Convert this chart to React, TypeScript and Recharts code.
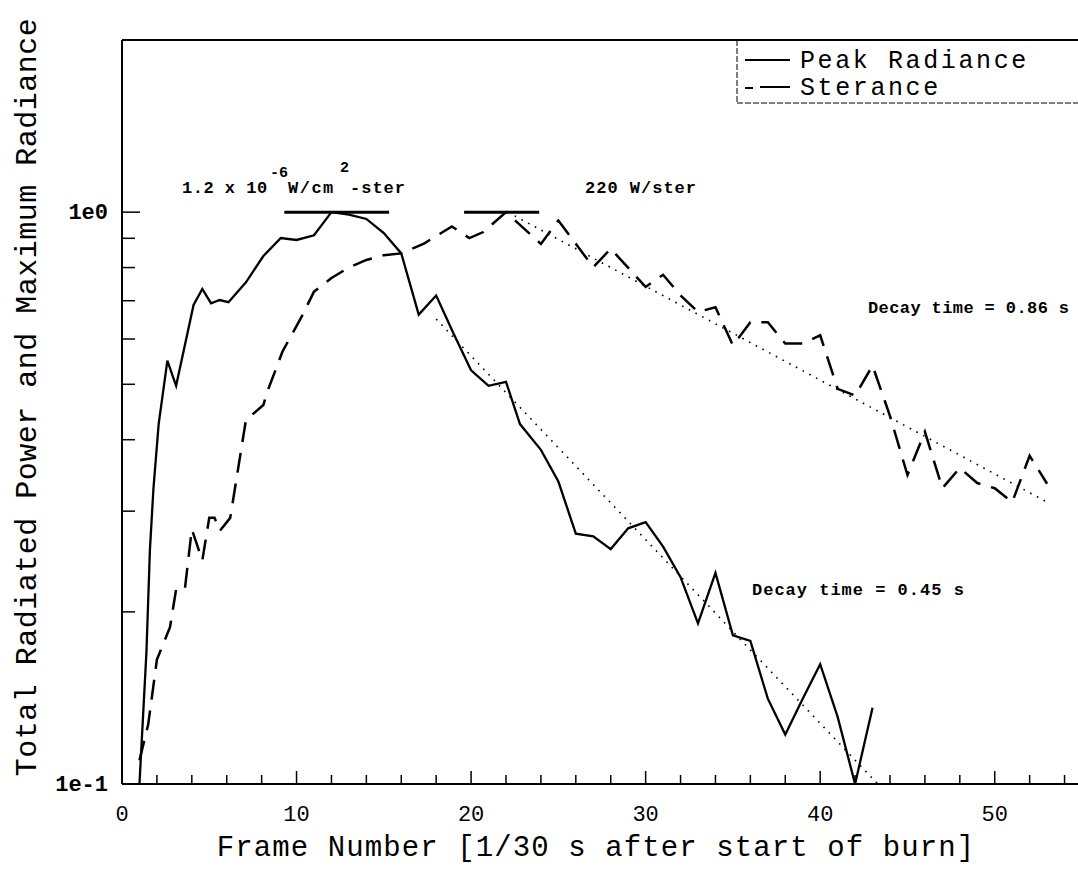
import React from "react";
import {
  LineChart,
  Line,
  XAxis,
  YAxis,
  ReferenceLine,
} from "recharts";

// Peak radiance (solid)
const peakFrames = [1, 1.4, 1.6, 1.8, 2.1, 2.6, 3.1, 4.1, 4.6, 5.1, 5.6, 6.1, 7.1, 8.1, 9.1, 10, 11, 12, 13, 14, 15, 16, 17, 18, 19, 20, 21, 22, 22.8, 24, 25, 26, 27, 28, 29, 30, 31, 32, 33, 34, 35, 36, 37, 38, 39, 40, 41, 42, 43];
const peakValues = [0.1, 0.17, 0.257, 0.328, 0.426, 0.55, 0.497, 0.688, 0.734, 0.693, 0.702, 0.696, 0.754, 0.838, 0.901, 0.894, 0.911, 1.0, 0.99, 0.973, 0.919, 0.847, 0.662, 0.715, 0.613, 0.529, 0.497, 0.505, 0.426, 0.384, 0.338, 0.274, 0.271, 0.2575, 0.28, 0.287, 0.26, 0.23, 0.191, 0.234, 0.182, 0.178, 0.141, 0.122, 0.141, 0.162, 0.131, 0.1, 0.136];

// Sterance (dashed)
const sterFrames = [1, 1.5, 2, 2.75, 3.1, 3.6, 4, 4.6, 5, 5.3, 5.6, 6.2, 7.1, 8.1, 8.3, 9.2, 10.3, 11, 12, 13, 14, 15, 16, 17.3, 18.9, 19.9, 20.7, 22, 24, 25, 27, 28, 30, 31, 32, 33, 34, 35, 36, 37, 38, 39, 40, 41, 42, 43, 44, 45, 46, 47, 48, 49, 50, 51, 52, 53];
const sterValues = [0.11, 0.127, 0.165, 0.188, 0.219, 0.219, 0.279, 0.246, 0.292, 0.292, 0.277, 0.292, 0.433, 0.46, 0.483, 0.571, 0.657, 0.726, 0.767, 0.8, 0.825, 0.841, 0.847, 0.881, 0.944, 0.901, 0.923, 1.0, 0.88, 0.967, 0.801, 0.863, 0.74, 0.777, 0.715, 0.669, 0.682, 0.585, 0.642, 0.642, 0.589, 0.589, 0.609, 0.491, 0.478, 0.539, 0.44, 0.347, 0.413, 0.329, 0.357, 0.336, 0.329, 0.311, 0.375, 0.335];

// dotted exponential fits (end points)
const fitPeakFrames = [18, 43.3];
const fitPeakValues = [0.65, 0.1];
const fitSterFrames = [22.5, 53.1];
const fitSterValues = [0.985, 0.31];

// normalisation bars at 1.0
const peakBar = [9.3, 15.3];
const sterBar = [19.6, 23.9];

const xTicks = [0, 2, 4, 6, 8, 10, 12, 14, 16, 18, 20, 22, 24, 26, 28, 30, 32, 34, 36, 38, 40, 42, 44, 46, 48, 50, 52, 54];
const yTicks = [0.1, 0.2, 0.3, 0.4, 0.5, 0.6, 0.7, 0.8, 0.9, 1];

const zip = (xs: number[], ys: number[]) => xs.map((f, i) => ({ frame: f, value: ys[i] }));

const peakData = zip(peakFrames, peakValues);
const sterData = zip(sterFrames, sterValues);
const fitPeakData = zip(fitPeakFrames, fitPeakValues);
const fitSterData = zip(fitSterFrames, fitSterValues);

const FONT = '"Liberation Mono", "DejaVu Sans Mono", monospace';

const XTick = (props: any) => {
  const { x, y, payload } = props;
  const v = payload.value;
  const major = v % 10 === 0;
  return (
    <g>
      {v > 0 && (
        <line x1={x} x2={x} y1={y} y2={y - (major ? 13 : 9)} stroke="#000" strokeWidth={1.5} />
      )}
      {major && (
        <text x={x} y={y + 37} textAnchor="middle" fontFamily={FONT} fontSize={22} fill="#000">
          {v}
        </text>
      )}
    </g>
  );
};

const YTick = (props: any) => {
  const { x, y, payload } = props;
  const v = payload.value;
  const major = v === 1;
  const label = v === 1 ? "1e0" : v === 0.1 ? "1e-1" : "";
  return (
    <g>
      {v > 0.1 && (
        <line x1={x} x2={x + (major ? 18 : 13)} y1={y} y2={y} stroke="#000" strokeWidth={1.5} />
      )}
      {label && (
        <text x={x - 14} y={y + 7} textAnchor="end" fontFamily={FONT} fontSize={22} fontWeight="bold" fill="#000">
          {label}
        </text>
      )}
    </g>
  );
};

const ann = { fontFamily: FONT, fontSize: 17, fontWeight: "bold" as const, fill: "#000" };

const App = () => {
  return (
    <div style={{ position: "absolute", left: 0, top: 0, width: 1078, height: 869, overflow: "hidden", background: "#fff" }}>
      <LineChart width={1090} height={869} margin={{ top: 40, right: 8, bottom: 0, left: 0 }}>
        <XAxis
          type="number"
          dataKey="frame"
          domain={[0, 55]}
          ticks={xTicks}
          interval={0}
          allowDataOverflow
          height={85}
          tickSize={0}
          tickMargin={0}
          tickLine={false}
          tick={<XTick />}
          axisLine={{ stroke: "#000", strokeWidth: 2 }}
        />
        <YAxis
          type="number"
          scale="log"
          domain={[0.1, 2]}
          ticks={yTicks}
          interval={0}
          allowDataOverflow
          width={122}
          tickSize={0}
          tickMargin={0}
          tickLine={false}
          tick={<YTick />}
          axisLine={{ stroke: "#000", strokeWidth: 2 }}
        />
        <ReferenceLine y={2} stroke="#000" strokeWidth={2} />
        <ReferenceLine
          segment={[{ x: peakBar[0], y: 1 }, { x: peakBar[1], y: 1 }]}
          stroke="#000"
          strokeWidth={3}
        />
        <ReferenceLine
          segment={[{ x: sterBar[0], y: 1 }, { x: sterBar[1], y: 1 }]}
          stroke="#000"
          strokeWidth={3}
        />
        <Line data={fitPeakData} dataKey="value" type="linear" stroke="#000" strokeWidth={1.6} strokeDasharray="1.6 6" dot={false} isAnimationActive={false} />
        <Line data={fitSterData} dataKey="value" type="linear" stroke="#000" strokeWidth={1.6} strokeDasharray="1.6 6" dot={false} isAnimationActive={false} />
        <Line data={sterData} dataKey="value" name="Sterance" type="linear" stroke="#000" strokeWidth={2.5} strokeDasharray="20 11" dot={false} isAnimationActive={false} />
        <Line data={peakData} dataKey="value" name="Peak Radiance" type="linear" stroke="#000" strokeWidth={2.3} dot={false} isAnimationActive={false} />
      </LineChart>

      <svg width={1078} height={869} style={{ position: "absolute", left: 0, top: 0, pointerEvents: "none" }}>
        {/* legend */}
        <line x1={737} y1={40} x2={737} y2={103} stroke="#000" strokeWidth={1} strokeDasharray="6 2" />
        <line x1={737} y1={103} x2={1078} y2={103} stroke="#000" strokeWidth={1} strokeDasharray="6 2" />
        <line x1={745} y1={60} x2={790} y2={60} stroke="#000" strokeWidth={2} />
        <text x={800} y={68} fontFamily={FONT} fontSize={25} letterSpacing={2.6} fill="#000">Peak Radiance</text>
        <line x1={745} y1={88} x2={753} y2={88} stroke="#000" strokeWidth={2} />
        <line x1={760} y1={87} x2={790} y2={87} stroke="#000" strokeWidth={2} />
        <text x={800} y={95} fontFamily={FONT} fontSize={25} letterSpacing={2.6} fill="#000">Sterance</text>

        {/* annotations */}
        <text x={182} y={193} {...ann} letterSpacing={0.5}>1.2 x 10</text>
        <text x={270} y={177} {...ann} fontSize={15}>-6</text>
        <text x={288} y={193} {...ann} letterSpacing={1.5}>W/cm</text>
        <text x={340} y={172} {...ann} fontSize={15}>2</text>
        <text x={350} y={193} {...ann} letterSpacing={1}>-ster</text>
        <text x={585} y={193} {...ann} letterSpacing={1}>220 W/ster</text>
        <text x={868} y={313} {...ann} letterSpacing={0.4}>Decay time = 0.86 s</text>
        <text x={752} y={595} {...ann} letterSpacing={1}>Decay time = 0.45 s</text>

        {/* axis titles */}
        <text x={596} y={856} textAnchor="middle" fontFamily={FONT} fontSize={29} letterSpacing={1.1} fill="#000">
          Frame Number [1/30 s after start of burn]
        </text>
        <text
          x={28}
          y={397}
          transform="rotate(-90 28 397)"
          textAnchor="middle"
          dominantBaseline="central"
          fontFamily={FONT}
          fontSize={30}
          letterSpacing={0.5}
          fill="#000"
        >
          Total Radiated Power and Maximum Radiance
        </text>
      </svg>
    </div>
  );
};

export default App;
